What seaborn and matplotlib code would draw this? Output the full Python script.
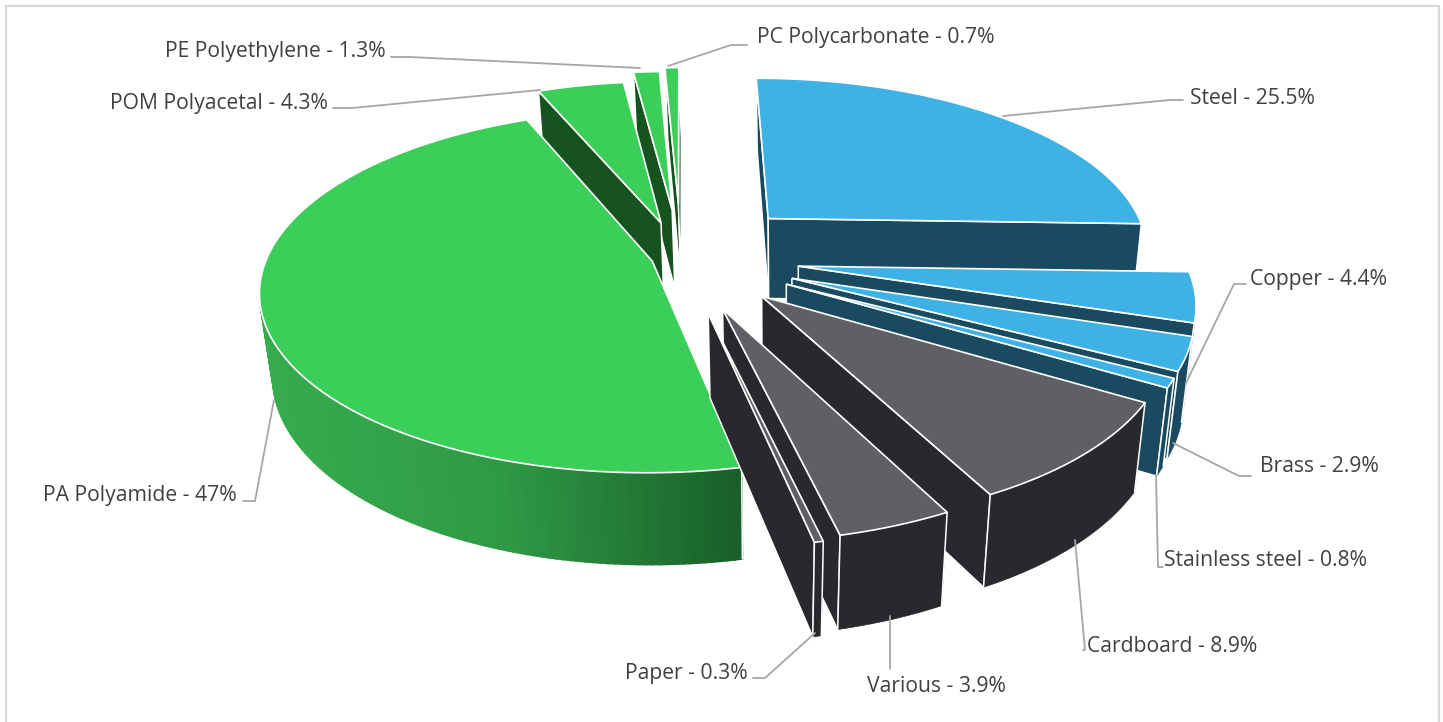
import numpy as np
import matplotlib
matplotlib.use('Agg')
import matplotlib.pyplot as plt
import seaborn as sns

# chart values
materials = ['Steel', 'Copper', 'Brass', 'Stainless steel', 'Cardboard', 'Various', 'Paper',
             'PA Polyamide', 'POM Polyacetal', 'PE Polyethylene', 'PC Polycarbonate']
shares = [25.5, 4.4, 2.9, 0.8, 8.9, 3.9, 0.3, 47, 4.3, 1.3, 0.7]
groups = ['metal', 'metal', 'metal', 'metal', 'other', 'other', 'other',
          'plastic', 'plastic', 'plastic', 'plastic']

sns.set_theme(style='white')
plt.rcParams['font.family'] = ['Open Sans', 'DejaVu Sans']

# colours per group: top face, side face
top_col = {'metal': '#3EB1E5', 'other': '#5F6066', 'plastic': '#3BCE58'}
side_col = {'metal': '#1A4A5F', 'other': '#28292C', 'plastic': '#17531F'}
rim_ramp = sns.blend_palette(['#19602A', '#2F9A45', '#36AC4D'], 240)

# camera of the fake 3d pie, everything in pixels
cx, cy = 681, 257
radius = 385
squash = 0.455
persp = 0.00043
lift = 0.0003
skew = 0.03
height = 84
explode = [126, 118, 118, 118, 114, 116, 120, 30, 80, 110, 122]


def project(x, y, z=0):
    w = 1 + persp * y - lift * z
    return cx + x / w - skew * z, cy - (y * squash + z) / w


def area(pts):
    p = np.array(pts)
    q = np.roll(p, -1, axis=0)
    return np.sum(p[:, 0] * q[:, 1] - q[:, 0] * p[:, 1])


def draw_slice(ax, t0, t1, off, group):
    mid = (t0 + t1) / 2
    ox, oy = off * np.sin(mid), off * np.cos(mid)
    th = np.linspace(t0, t1, max(int((t1 - t0) * 60), 4))
    rx = ox + radius * np.sin(th)
    ry = oy + radius * np.cos(th)
    top = [project(a, b) for a, b in zip(rx, ry)]
    bot = [project(a, b, -height) for a, b in zip(rx, ry)]
    apex_t = project(ox, oy)
    apex_b = project(ox, oy, -height)

    # radial faces first
    start_face = [apex_t, top[0], bot[0], apex_b]
    end_face = [apex_t, top[-1], bot[-1], apex_b]
    if area(start_face) < 0:
        ax.fill(*zip(*start_face), fc=side_col[group], ec='white', lw=1.1, zorder=order)
    if area(end_face) > 0:
        ax.fill(*zip(*end_face), fc=side_col[group], ec='white', lw=1.1, zorder=order)

    # outer rim, only the part that faces us
    shown = [i for i in range(len(th) - 1)
             if area([top[i], top[i + 1], bot[i + 1], bot[i]]) < 0]
    if shown:
        a, b = shown[0], shown[-1] + 1
        if group == 'plastic':
            # green one has a gradient along x
            for i in shown:
                quad = [top[i], top[i + 1], bot[i + 1], bot[i]]
                k = int(np.clip((742 - top[i][0]) / 480 * 239, 0, 239))
                ax.fill(*zip(*quad), fc=rim_ramp[k], ec=rim_ramp[k], lw=1.2, zorder=order)
        else:
            outline = top[a:b + 1] + bot[a:b + 1][::-1]
            ax.fill(*zip(*outline), fc=side_col[group], ec=side_col[group], lw=0.5, zorder=order)
        # white edge only where the slice really ends
        for i in (a, b):
            if i == 0 or i == len(th) - 1:
                ax.plot([top[i][0], bot[i][0]], [top[i][1], bot[i][1]], color='white', lw=1.1, zorder=order)

    # top face on top of all that
    ax.fill(*zip(*([apex_t] + top)), fc=top_col[group], ec='white', lw=1.2, zorder=order)


fig = plt.figure(figsize=(14.43, 7.22), dpi=100)
ax = fig.add_axes([0, 0, 1, 1])
ax.set_xlim(0, 1443)
ax.set_ylim(722, 0)
ax.axis('off')

# frame of the chart area
ax.plot([6, 6, 1439, 1439], [722, 6, 6, 722], color='#D9D9D9', lw=1.6, zorder=0)

edges = np.cumsum([0] + shares) / sum(shares) * 2 * np.pi
# left side goes first from back to front, then right side
paint = [10, 9, 8, 7, 0, 1, 2, 3, 4, 5, 6]
for order, n in enumerate(paint, start=2):
    draw_slice(ax, edges[n], edges[n + 1], explode[n], groups[n])

# leader lines and labels placed by hand, like in the original
leaders = {
    'Steel': [(1183, 100), (1170, 100), (1003, 116)],
    'Copper': [(1246, 284), (1234, 284), (1186, 383)],
    'Brass': [(1251, 476), (1239, 476), (1173, 443)],
    'Stainless steel': [(1163, 567), (1158, 567), (1156, 475)],
    'Cardboard': [(1083, 650), (1085, 650), (1075, 540)],
    'Various': [(890, 669), (890, 616)],
    'Paper': [(753, 678), (765, 678), (815, 633)],
    'PA Polyamide': [(243, 501), (255, 501), (274, 400)],
    'POM Polyacetal': [(333, 108), (352, 108), (540, 90)],
    'PE Polyethylene': [(391, 57), (410, 57), (640, 68)],
    'PC Polycarbonate': [(747, 45), (731, 45), (668, 66)],
}
label_pos = {
    'Steel': (1190, 98, 'left'),
    'Copper': (1250, 280, 'left'),
    'Brass': (1260, 467, 'left'),
    'Stainless steel': (1164, 561, 'left'),
    'Cardboard': (1087, 646, 'left'),
    'Various': (867, 687, 'left'),
    'Paper': (748, 674, 'right'),
    'PA Polyamide': (237, 496, 'right'),
    'POM Polyacetal': (328, 104, 'right'),
    'PE Polyethylene': (386, 52, 'right'),
    'PC Polycarbonate': (757, 38, 'left'),
}

for name, val in zip(materials, shares):
    xs, ys = zip(*leaders[name])
    ax.plot(xs, ys, color='#A6A6A6', lw=1.3, zorder=20)
    x, y, ha = label_pos[name]
    ax.text(x, y, f'{name} - {val}%', ha=ha, va='center', fontsize=15.2, color='#404040', zorder=21)

plt.savefig('out.png', dpi=100)
